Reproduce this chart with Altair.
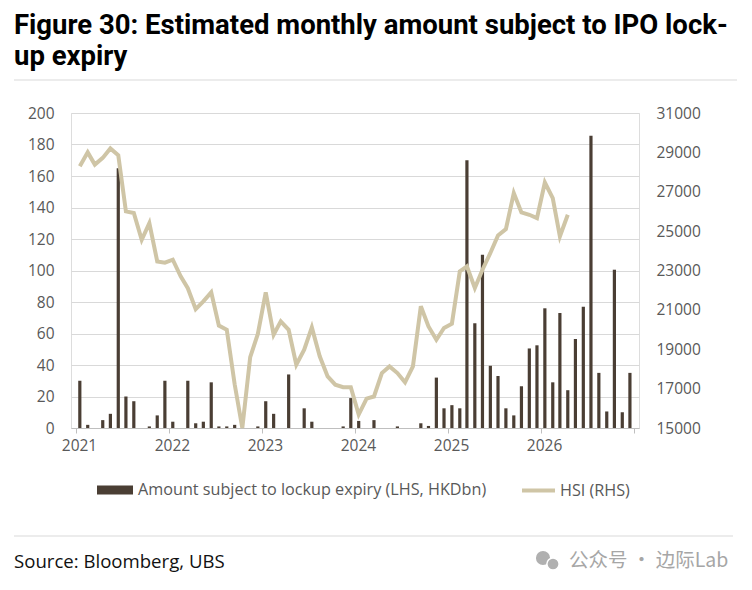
import altair as alt
import pandas as pd

# ---- data ----
lockup_2021 = [30, 2, 0, 5, 9, 165, 20, 17, 0, 1, 8, 30]
lockup_2022 = [4, 0, 30, 3, 4, 29, 1, 1, 2, 0, 0, 1]
lockup_2023 = [17, 9, 0, 34, 0, 12.5, 4, 0, 0, 0, 1, 19]
lockup_2024 = [4.5, 0, 5, 0, 0, 1, 0, 0, 3, 1.3, 32, 12.5]
lockup_2025 = [14.5, 12.5, 170, 66.5, 110, 39.5, 33, 12.5, 8, 26.5, 50.5, 52.5]
lockup_2026 = [76, 29, 73, 24, 56.5, 77, 185.5, 35, 10.5, 100.5, 10, 35]

hsi_2021 = [28290, 29000, 28380, 28720, 29200, 28850, 26000, 25920, 24560, 25410, 23460, 23400]
hsi_2022 = [23550, 22700, 22100, 21040, 21430, 21890, 20200, 19990, 17220, 15000, 18600, 19780]
hsi_2023 = [21890, 19740, 20415, 19990, 18215, 18980, 20110, 18640, 17620, 17200, 17070, 17070]
hsi_2024 = [15680, 16490, 16600, 17790, 18130, 17790, 17320, 18130, 21180, 20160, 19480, 20080]
hsi_2025 = [20300, 22950, 23210, 22110, 23040, 23890, 24780, 25100, 26930, 25950, 25830, 25660]
hsi_2026 = [27470, 26680, 24730, 25830]

bar_label = "Amount subject to lockup expiry (LHS, HKDbn)"
line_label = "HSI (RHS)"
title_lines = ["Figure 30: Estimated monthly amount subject to IPO lock-", "up expiry"]
source_text = "Source: Bloomberg, UBS"
watermark_text = "公众号 · 边际Lab"
year_ticks = [2021, 2022, 2023, 2024, 2025, 2026, 2027]

lockup = lockup_2021 + lockup_2022 + lockup_2023 + lockup_2024 + lockup_2025 + lockup_2026
hsi = hsi_2021 + hsi_2022 + hsi_2023 + hsi_2024 + hsi_2025 + hsi_2026

months = pd.date_range("2021-01-01", periods=len(lockup), freq="MS") + pd.Timedelta(days=15)
month_str = [d.strftime("%Y-%m-%dT00:00:00") for d in months]

bars_df = pd.DataFrame({"date": month_str, "amount": lockup, "series": bar_label})
line_df = pd.DataFrame({"date": month_str[: len(hsi)], "hsi": hsi, "series": line_label})

BROWN = "#4a3e34"
BEIGE = "#cfc5a6"
GRID = "#d9d9d9"
LABEL = "#595959"
FONT = "Open Sans"

xscale = alt.Scale(domain=[alt.DateTime(year=2021, month=1, date=1),
                           alt.DateTime(year=2027, month=1, date=1)])
xaxis = alt.Axis(
    values=[alt.DateTime(year=y, month=1, date=1) for y in year_ticks],
    format="%Y",
    labelExpr="year(datum.value) == 2027 ? '' : timeFormat(datum.value, '%Y')",
    grid=False, domainColor="#bfbfbf", tickColor="#bfbfbf", tickSize=5,
    labelOffset=3, labelPadding=5, labelFontSize=15.5, labelColor=LABEL,
    labelFont=FONT, title=None,
)

bars = alt.Chart(bars_df).mark_bar(size=3.2).encode(
    x=alt.X("date:T", scale=xscale, axis=xaxis),
    y=alt.Y("amount:Q", scale=alt.Scale(domain=[0, 200]),
            axis=alt.Axis(values=list(range(0, 201, 20)), grid=True, gridColor=GRID,
                          gridWidth=1.2, domain=False, ticks=False, labelPadding=17,
                          labelFontSize=15.5, labelColor=LABEL, labelFont=FONT, title=None)),
    color=alt.Color("series:N", scale=alt.Scale(domain=[bar_label], range=[BROWN]),
                    legend=alt.Legend(orient="none", legendX=26, legendY=359, title=None,
                                      symbolType="M-1,-0.25H1V0.25H-1Z", symbolSize=1296,
                                      symbolStrokeWidth=0, labelOffset=5, labelLimit=600,
                                      labelFontSize=16.2, labelColor=LABEL, labelFont=FONT,
                                      padding=0)),
)

line = alt.Chart(line_df).mark_line(strokeWidth=4).encode(
    x=alt.X("date:T", scale=xscale),
    y=alt.Y("hsi:Q", scale=alt.Scale(domain=[15000, 31000]),
            axis=alt.Axis(orient="right", values=list(range(15000, 31001, 2000)), format="d",
                          grid=False, domain=False, ticks=False, labelPadding=17,
                          labelFontSize=15.5, labelColor=LABEL, labelFont=FONT, title=None)),
    stroke=alt.Stroke("series:N", scale=alt.Scale(domain=[line_label], range=[BEIGE]),
                      legend=alt.Legend(orient="none", legendX=449, legendY=359, title=None,
                                        symbolType="stroke", symbolSize=1089,
                                        symbolStrokeWidth=4, labelOffset=3, labelLimit=600,
                                        labelFontSize=16.2, labelColor=LABEL, labelFont=FONT,
                                        padding=0)),
)

deco_df = pd.DataFrame({"k": [0]})
rule_top = alt.Chart(deco_df).mark_rule(color=GRID, strokeWidth=1.2).encode(
    x=alt.value(-57), x2=alt.value(666), y=alt.value(-33))
rule_bot = alt.Chart(deco_df).mark_rule(color=GRID, strokeWidth=1.2).encode(
    x=alt.value(-57), x2=alt.value(662), y=alt.value(423))
source = alt.Chart(deco_df).mark_text(align="left", baseline="alphabetic", font=FONT,
                                      fontSize=18.6, color="#111111", text=source_text).encode(
    x=alt.value(-57), y=alt.value(455))
wm = alt.Chart(deco_df).mark_text(align="left", baseline="alphabetic", font="Noto Sans CJK SC",
                                  fontSize=19.5, color="#a6a6a6", text=watermark_text).encode(
    x=alt.value(498), y=alt.value(454))
icon1 = alt.Chart(deco_df).mark_circle(size=200, color="#b0b0b0", opacity=1).encode(
    x=alt.value(472), y=alt.value(445))
icon2 = alt.Chart(deco_df).mark_circle(size=150, color="#b0b0b0", opacity=1, stroke="white",
                                       strokeWidth=1.5).encode(
    x=alt.value(482), y=alt.value(451))

chart = alt.layer(rule_top, rule_bot, bars, line, source, wm, icon1, icon2).resolve_scale(
    y="independent", color="independent", stroke="independent"
).properties(
    width=568, height=315,
    autosize=alt.AutoSizeParams(type="none"),
    padding={"left": 63, "top": 105, "right": 105, "bottom": 150},
    title=alt.TitleParams(text=title_lines, anchor="start", frame="group", dx=-57, dy=3,
                          font="Roboto", fontSize=27.5, fontWeight="bold", color="#000000",
                          lineHeight=30.5, offset=12),
).configure_view(stroke=None).configure(background="white")

chart.save("out.html", embed_options={"renderer": "svg", "actions": False})
